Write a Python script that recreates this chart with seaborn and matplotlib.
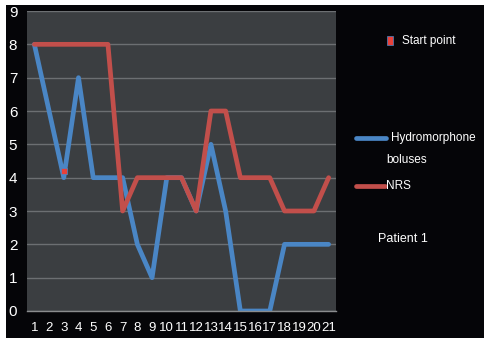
import matplotlib
matplotlib.use("Agg")
import matplotlib.pyplot as plt
from matplotlib.lines import Line2D
from matplotlib.patches import Rectangle
import pandas as pd
import seaborn as sns

# Session data for patient 1
sessions = list(range(1, 22))
hydromorphone = [8, 6, 4, 7, 4, 4, 4, 2, 1, 4, 4, 3, 5, 3, 0, 0, 0, 2, 2, 2, 2]
nrs = [8, 8, 8, 8, 8, 8, 3, 4, 4, 4, 4, 3, 6, 6, 4, 4, 4, 3, 3, 3, 4]
start_x = [3]
start_y = [4.2]
y_ticks = list(range(0, 10))

series_names = ["Hydromorphone\nboluses", "NRS"]
palette = {"Hydromorphone\nboluses": "#4a86c5", "NRS": "#c24f4b"}

df = pd.concat([
    pd.DataFrame({"session": sessions, "value": hydromorphone, "series": series_names[0]}),
    pd.DataFrame({"session": sessions, "value": nrs, "series": series_names[1]}),
])

sns.set_style("dark")
plt.rcParams["font.family"] = ["Liberation Sans Narrow", "Liberation Sans", "DejaVu Sans"]

fig = plt.figure(figsize=(4.85, 3.38), dpi=100, facecolor="#050508")

# Page margin strips (drawn behind the axes and labels)
fig.patches.append(Rectangle((0, 1 - 5 / 338), 1, 5 / 338, transform=fig.transFigure,
                             facecolor="white", edgecolor="none", zorder=-5))
fig.patches.append(Rectangle((0, 0), 6 / 485, 1, transform=fig.transFigure,
                             facecolor="white", edgecolor="none", zorder=-5))

ax = fig.add_axes([27 / 485, 1 - 311 / 338, (336 - 27) / 485, 300 / 338])
ax.set_facecolor("#3b3e41")

sns.lineplot(data=df, x="session", y="value", hue="series", hue_order=series_names,
             palette=palette, linewidth=3.4, ax=ax, legend=False, sort=False)
ax.scatter(start_x, start_y, marker="s", s=22, color="#e8413a",
           edgecolor="#4a86c5", linewidth=0.5, zorder=5)

ax.set_xlim(0.5, 21.5)
ax.set_ylim(0, 9)
ax.set_yticks(y_ticks)
ax.set_xticks(sessions)
ax.set_xticks([s + 0.5 for s in [0] + sessions], minor=True)
ax.set_xlabel("")
ax.set_ylabel("")
ax.grid(axis="y", color="#6c6f72", linewidth=1.0)
ax.grid(axis="x", visible=False)
for side in ["top", "right", "left"]:
    ax.spines[side].set_visible(False)
ax.spines["bottom"].set_visible(True)
ax.spines["bottom"].set_color("#8a8c8e")
ax.spines["bottom"].set_linewidth(1.0)
ax.tick_params(axis="y", colors="white", labelsize=11, length=0, pad=7)
ax.tick_params(axis="x", which="major", colors="white", labelsize=9.5, length=0, pad=8)
ax.tick_params(axis="x", which="minor", color="#8a8c8e", length=4, width=1.0)

# Legend and label on the right side
fig.add_artist(Rectangle((387 / 485, 1 - 45 / 338), 6 / 485, 9 / 338,
                         transform=fig.transFigure, facecolor="#e8413a",
                         edgecolor="#4a86c5", linewidth=0.5))
fig.text(402 / 485, 1 - 41 / 338, "Start point", color="white", fontsize=8.5, va="center")

fig.add_artist(Line2D([356 / 485, 386 / 485], [1 - 138 / 338, 1 - 138 / 338],
                      transform=fig.transFigure, color=palette[series_names[0]],
                      linewidth=3.4, solid_capstyle="round"))
fig.text(391 / 485, 1 - 138 / 338, "Hydromorphone", color="white", fontsize=8.5, va="center")
fig.text(386 / 485, 1 - 160 / 338, "boluses", color="white", fontsize=8.5, va="center")

fig.add_artist(Line2D([356 / 485, 385 / 485], [1 - 186 / 338, 1 - 186 / 338],
                      transform=fig.transFigure, color=palette[series_names[1]],
                      linewidth=3.4, solid_capstyle="round"))
fig.text(386 / 485, 1 - 186 / 338, "NRS", color="white", fontsize=8.5, va="center")

fig.text(378 / 485, 1 - 239 / 338, "Patient 1", color="white", fontsize=9, va="center")

fig.savefig("out.png", dpi=100, facecolor=fig.get_facecolor())
